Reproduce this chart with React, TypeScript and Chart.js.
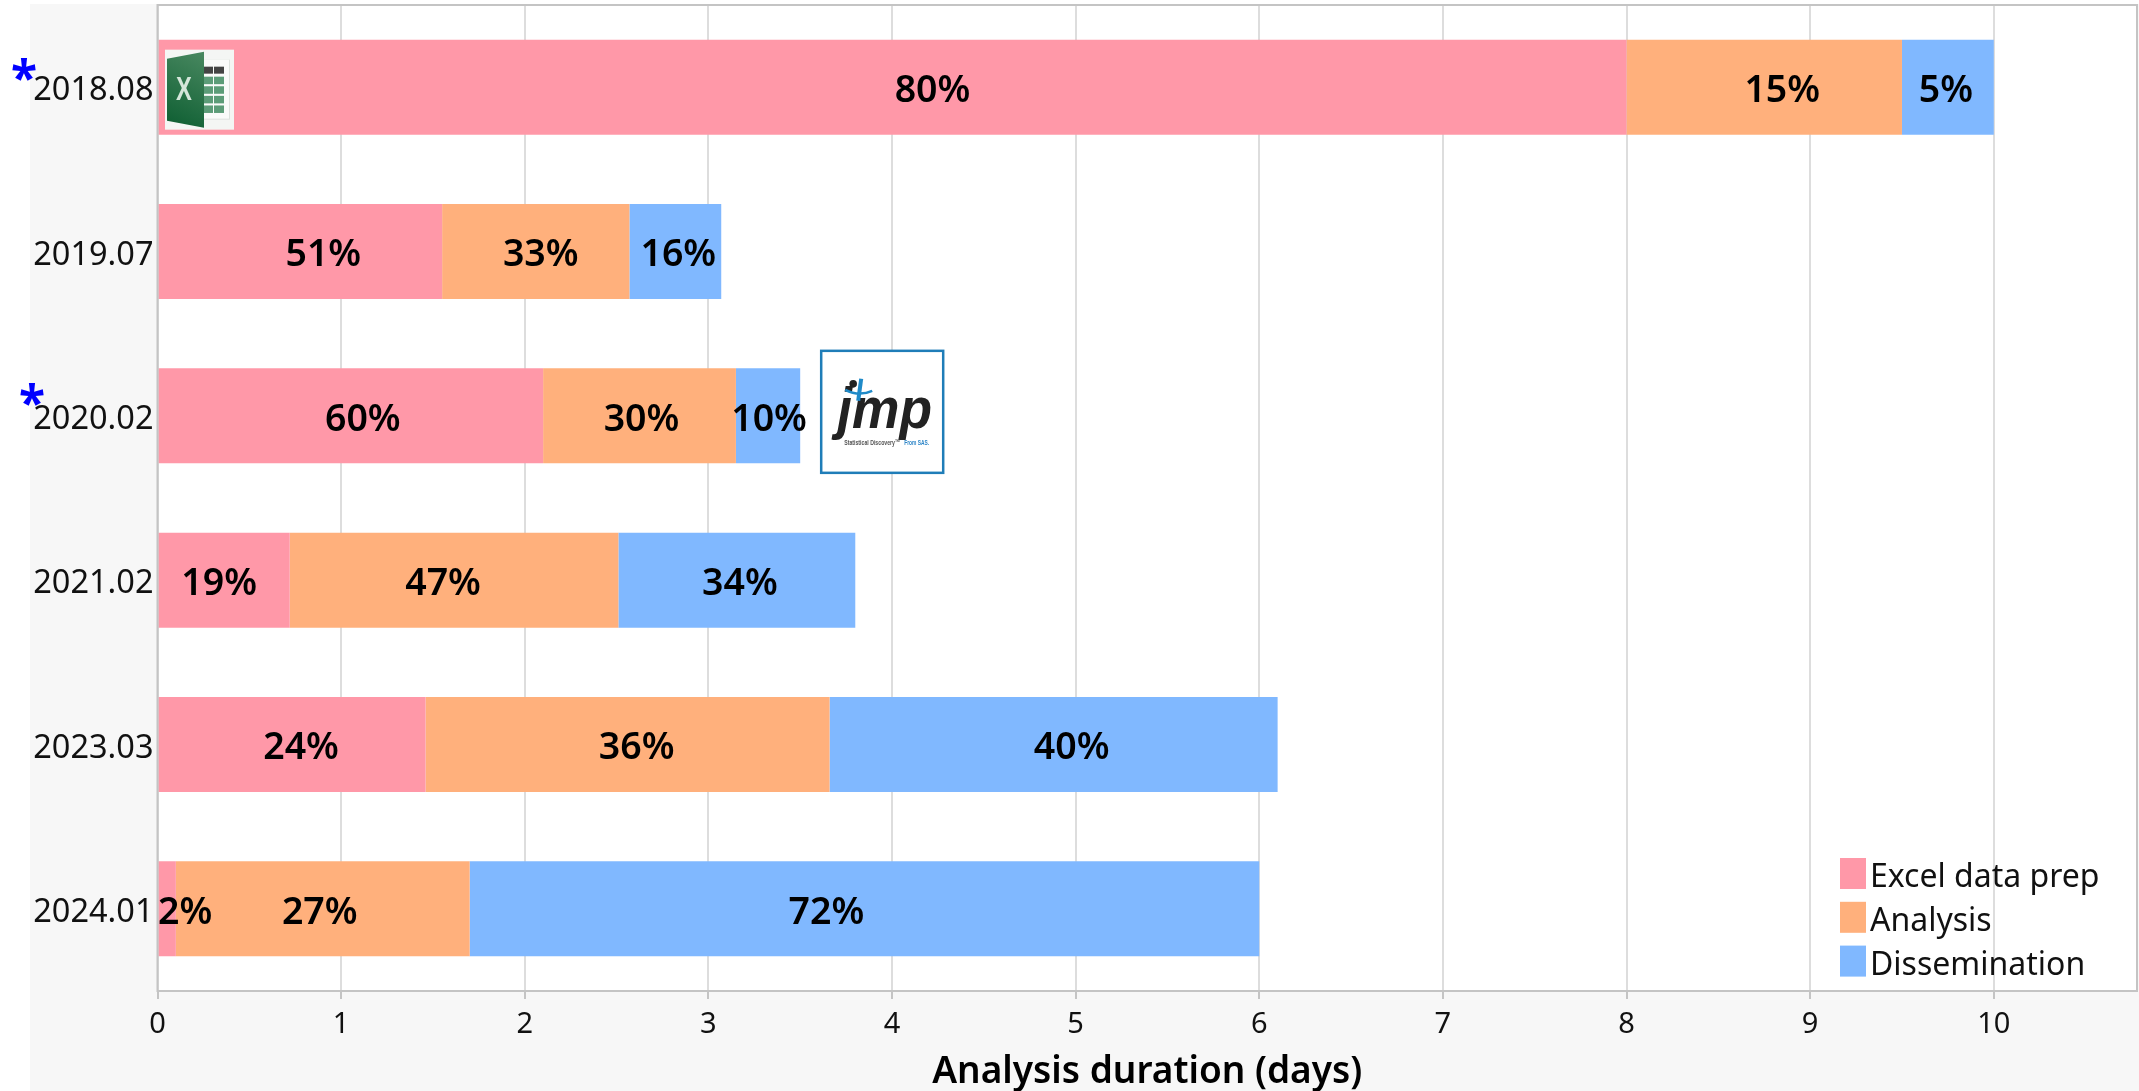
import React, { useEffect, useRef } from "react";
import { Chart, registerables } from "chart.js";

Chart.register(...registerables);

const categories = ["2018.08", "2019.07", "2020.02", "2021.02", "2023.03", "2024.01"];
const excelPrep = [8, 1.55, 2.1, 0.72, 1.46, 0.1];
const analysis = [1.5, 1.02, 1.05, 1.79, 2.2, 1.6];
const dissemination = [0.5, 0.5, 0.35, 1.29, 2.44, 4.3];
const excelPct = ["80%", "51%", "60%", "19%", "24%", "2%"];
const analysisPct = ["15%", "33%", "30%", "47%", "36%", "27%"];
const disseminationPct = ["5%", "16%", "10%", "34%", "40%", "72%"];
const starred = ["2018.08", "2020.02"];
const seriesNames = ["Excel data prep", "Analysis", "Dissemination"];

const COLORS = ["#FF98A8", "#FFB07C", "#80B8FF"];
const FONT = '"Noto Sans", "Open Sans", sans-serif';
// hand-placed label nudges, px, one row per series
const NUDGE = [
  [40, 23, 12, -5, 9, 18],
  [18, 5, 2, -11, 9, -3],
  [-2, 3, 1, 3, 18, -38],
];

const decorPlugin = {
  id: "decor",
  beforeDraw(chart: any) {
    const { ctx, width, height } = chart;
    const { left, top, right, bottom } = chart.chartArea;
    ctx.save();
    ctx.fillStyle = "#FFFFFF";
    ctx.fillRect(0, 0, width, height);
    ctx.fillStyle = "#F7F7F7";
    ctx.fillRect(30, 4, width - 30, height - 4);
    ctx.fillStyle = "#FFFFFF";
    ctx.fillRect(left, top, right - left, bottom - top);
    ctx.restore();
  },
  afterDatasetsDraw(chart: any) {
    const { ctx } = chart;
    const { left, top, right, bottom } = chart.chartArea;
    const xs = chart.scales.x;
    const ys = chart.scales.y;
    ctx.save();

    // plot frame
    ctx.strokeStyle = "#C4C4C4";
    ctx.lineWidth = 2;
    ctx.strokeRect(left, top, right - left, bottom - top);

    // segment labels
    ctx.fillStyle = "#000";
    ctx.font = `600 37.5px ${FONT}`;
    ctx.textAlign = "center";
    ctx.textBaseline = "middle";
    const pct = [excelPct, analysisPct, disseminationPct];
    chart.data.datasets.forEach((ds: any, i: number) => {
      const meta = chart.getDatasetMeta(i);
      meta.data.forEach((bar: any, j: number) => {
        const cx = (bar.x + bar.base) / 2 + NUDGE[i][j];
        ctx.fillText(pct[i][j], cx, bar.y + 4);
      });
    });

    // blue asterisks beside the flagged categories
    ctx.fillStyle = "#0000FF";
    ctx.font = `700 48px ${FONT}`;
    starred.forEach((c) => {
      const y = ys.getPixelForValue(categories.indexOf(c));
      const first = c === "2018.08";
      ctx.fillText("*", first ? 24 : 32, y - (first ? 5.5 : 10));
    });

    // Excel icon on first bar
    const ey = ys.getPixelForValue(0);
    const ex = xs.getPixelForValue(0) + 7.5;
    const et = ey - 37.5;
    ctx.fillStyle = "#F4F6F4";
    ctx.fillRect(ex, et, 69, 80);
    ctx.fillStyle = "#DDE2DE";
    ctx.fillRect(ex + 38, et + 10, 27, 60);
    ctx.fillStyle = "#FAFBFA";
    ctx.fillRect(ex + 38, et + 10, 26, 59);
    ["#444", "#444"].forEach((col, k) => {
      ctx.fillStyle = col;
      ctx.fillRect(ex + 38 + k * 11, et + 17, 10, 7);
    });
    for (let r = 0; r < 4; r++) {
      for (let k = 0; k < 2; k++) {
        ctx.fillStyle = "#5C9C78";
        ctx.fillRect(ex + 38 + k * 11, et + 27 + r * 9.6, 10, 7.5);
      }
    }
    const g = ctx.createLinearGradient(ex + 3, et + 75, ex + 39, et + 5);
    g.addColorStop(0, "#0F5F33");
    g.addColorStop(1, "#47875F");
    ctx.fillStyle = g;
    ctx.beginPath();
    ctx.moveTo(ex + 2, et + 9);
    ctx.lineTo(ex + 39, et + 2);
    ctx.lineTo(ex + 39, et + 78);
    ctx.lineTo(ex + 2, et + 71);
    ctx.closePath();
    ctx.fill();
    ctx.fillStyle = "#D5E6DA";
    ctx.save();
    ctx.translate(ex + 19, et + 41);
    ctx.scale(0.72, 1);
    ctx.font = `700 33px "Liberation Sans", sans-serif`;
    ctx.fillText("X", 0, 0);
    ctx.restore();

    // JMP logo beside third bar
    const jy = ys.getPixelForValue(2);
    const jl = xs.getPixelForValue(3.5) + 21;
    const jt = jy - 65;
    ctx.fillStyle = "#FFFFFF";
    ctx.fillRect(jl, jt, 122, 122);
    ctx.strokeStyle = "#1F7DB8";
    ctx.lineWidth = 2.5;
    ctx.strokeRect(jl, jt, 122, 122);
    ctx.save();
    ctx.textAlign = "left";
    ctx.textBaseline = "alphabetic";
    ctx.fillStyle = "#222222";
    ctx.translate(jl + 16, jt + 77);
    ctx.scale(0.92, 1);
    ctx.font = `italic 700 58px "Liberation Sans", sans-serif`;
    ctx.fillText("jmp", 0, 0);
    ctx.restore();
    ctx.strokeStyle = "#1F8AC8";
    ctx.lineWidth = 2.5;
    ctx.beginPath();
    ctx.moveTo(jl + 24, jt + 39);
    ctx.quadraticCurveTo(jl + 38, jt + 46, jl + 51, jt + 40);
    ctx.stroke();
    ctx.lineWidth = 4;
    ctx.beginPath();
    ctx.moveTo(jl + 40, jt + 28);
    ctx.lineTo(jl + 37, jt + 50);
    ctx.stroke();
    ctx.fillStyle = "#222222";
    ctx.beginPath();
    ctx.arc(jl + 32, jt + 33, 3.8, 0, Math.PI * 2);
    ctx.fill();
    ctx.textAlign = "left";
    ctx.font = `700 8px "Liberation Sans", sans-serif`;
    ctx.fillStyle = "#555";
    ctx.fillText("Statistical Discovery™", jl + 23, jt + 92, 56);
    ctx.fillStyle = "#2E86C8";
    ctx.fillText("From SAS.", jl + 83, jt + 92, 25);

    // legend
    ctx.textAlign = "left";
    ctx.font = `400 32px ${FONT}`;
    chart.data.datasets.forEach((ds: any, i: number) => {
      const base = bottom - 133 + i * 43.8;
      ctx.fillStyle = ds.backgroundColor;
      ctx.fillRect(right - 297, base, 26, 31);
      ctx.fillStyle = "#111";
      ctx.fillText(ds.label, right - 267, base + 20);
    });
    ctx.restore();
  },
};

export default function App() {
  const ref = useRef<HTMLCanvasElement>(null);
  useEffect(() => {
    const mk = (label: string, data: number[], color: string) => ({
      label,
      data,
      backgroundColor: color,
      borderWidth: 0,
      barPercentage: 0.578,
      categoryPercentage: 1,
    });
    const chart = new Chart(ref.current as HTMLCanvasElement, {
      type: "bar",
      data: {
        labels: categories,
        datasets: [
          mk(seriesNames[0], excelPrep, COLORS[0]),
          mk(seriesNames[1], analysis, COLORS[1]),
          mk(seriesNames[2], dissemination, COLORS[2]),
        ],
      },
      options: {
        indexAxis: "y",
        responsive: false,
        animation: false,
        layout: { autoPadding: false, padding: { top: 5, right: 2, left: 0, bottom: 0 } },
        plugins: { legend: { display: false }, tooltip: { enabled: false } },
        scales: {
          x: {
            type: "linear",
            stacked: true,
            min: 0,
            max: 10.78,
            afterFit: (s: any) => {
              s.height = 100;
            },
            ticks: {
              stepSize: 1,
              includeBounds: false,
              autoSkip: false,
              maxRotation: 0,
              color: "#111",
              padding: 8,
              font: { family: FONT, size: 29 },
            },
            grid: { color: "#DDDDDD", lineWidth: 2, tickLength: 8, tickColor: "#C4C4C4" },
            border: { display: false },
            title: {
              display: true,
              text: "Analysis duration (days)",
              color: "#000",
              padding: { top: 4, bottom: -4 },
              font: { family: FONT, size: 37, weight: "600" },
            },
          },
          y: {
            type: "category",
            stacked: true,
            afterFit: (s: any) => {
              s.width = 157.5;
              s.paddingTop = 0;
              s.paddingBottom = 0;
            },
            ticks: {
              color: "#111",
              padding: 4,
              labelOffset: 4,
              font: { family: FONT, size: 32.5 },
            },
            grid: { display: false, drawTicks: false },
            border: { display: false },
          },
        },
      },
      plugins: [decorPlugin],
    } as any);
    return () => chart.destroy();
  }, []);
  return (
    <div style={{ position: "absolute", left: 0, top: 0 }}>
      <canvas ref={ref} width={2139} height={1091} style={{ display: "block" }} />
    </div>
  );
}
